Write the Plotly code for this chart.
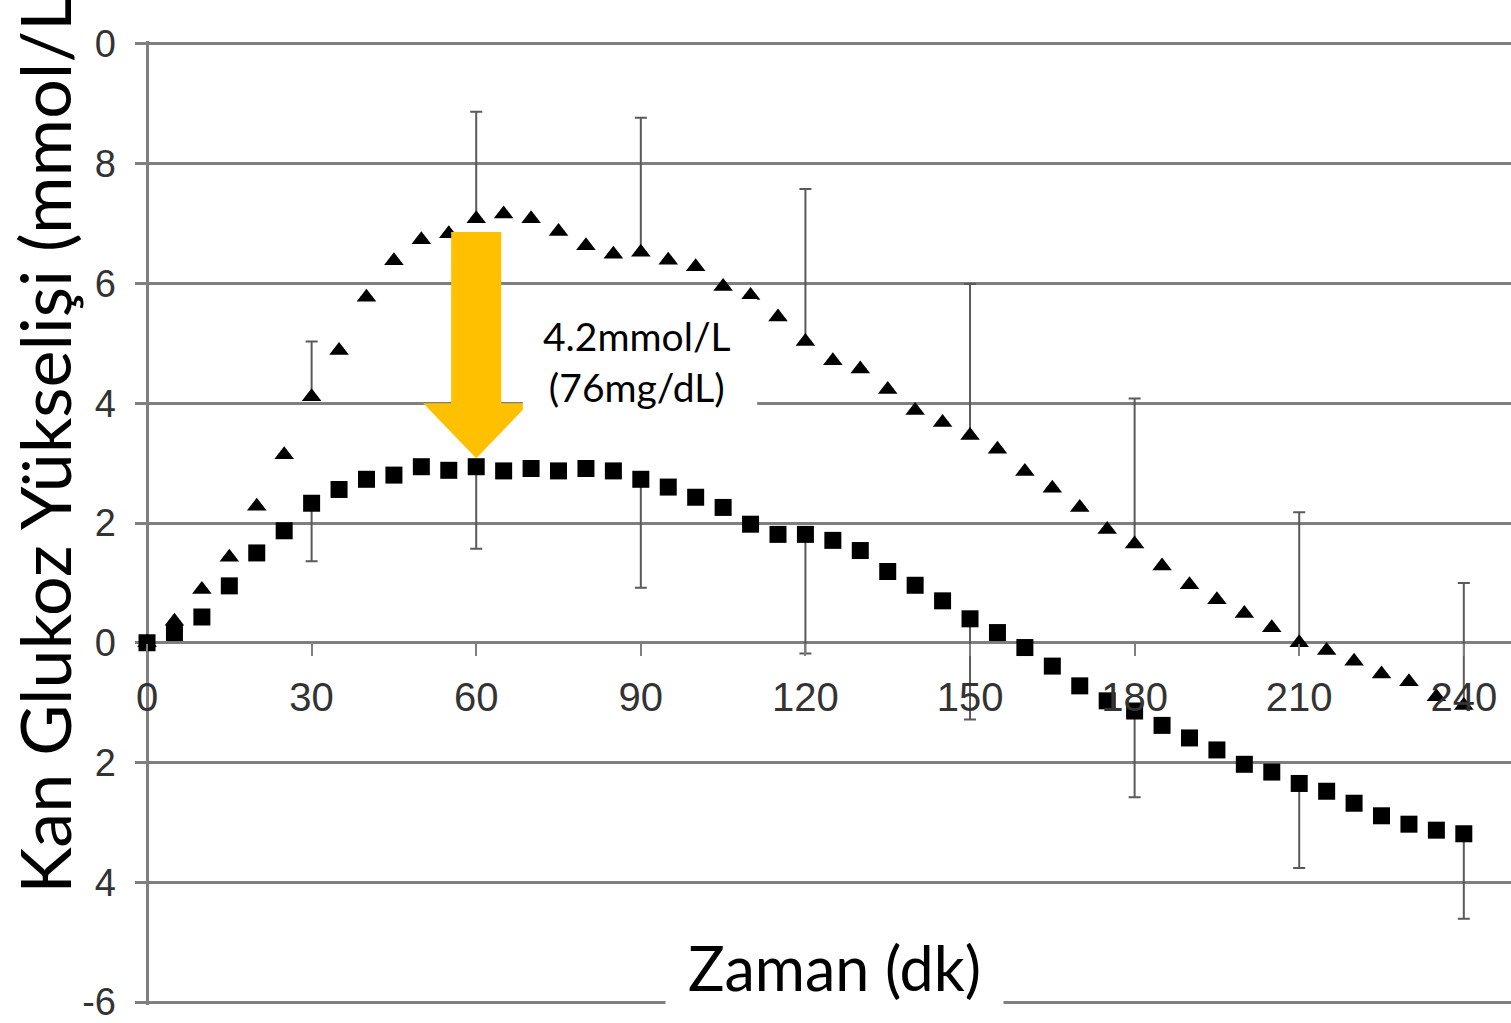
import plotly.graph_objects as go

# ---- data ----
times = [0, 5, 10, 15, 20, 25, 30, 35, 40, 45, 50, 55, 60, 65, 70, 75, 80, 85, 90, 95,
         100, 105, 110, 115, 120, 125, 130, 135, 140, 145, 150, 155, 160, 165, 170, 175,
         180, 185, 190, 195, 200, 205, 210, 215, 220, 225, 230, 235, 240]

triangle_vals = [0.0, 0.36, 0.89, 1.43, 2.28, 3.14, 4.11, 4.88, 5.77, 6.38, 6.73, 6.83,
                 7.08, 7.16, 7.08, 6.87, 6.63, 6.49, 6.52, 6.39, 6.28, 5.95, 5.80, 5.44,
                 5.03, 4.71, 4.57, 4.23, 3.88, 3.68, 3.46, 3.23, 2.86, 2.58, 2.26, 1.89,
                 1.65, 1.28, 0.97, 0.72, 0.49, 0.25, 0.0, -0.13, -0.31, -0.52, -0.65, -0.90,
                 -1.05]

square_vals = [0.0, 0.17, 0.43, 0.95, 1.50, 1.87, 2.33, 2.56, 2.73, 2.80, 2.94, 2.88,
               2.94, 2.87, 2.91, 2.87, 2.91, 2.87, 2.73, 2.60, 2.43, 2.26, 1.98, 1.81,
               1.81, 1.71, 1.54, 1.19, 0.96, 0.70, 0.40, 0.17, -0.08, -0.39, -0.72, -0.97,
               -1.14, -1.38, -1.59, -1.79, -2.03, -2.16, -2.35, -2.48, -2.68, -2.89, -3.03,
               -3.13, -3.19]

err_times = [30, 60, 90, 120, 150, 180, 210, 240]
triangle_err_up = [0.92, 1.79, 2.25, 2.55, 2.53, 2.43, 2.18, 2.05]
square_err_down = [0.97, 1.37, 1.81, 1.99, 1.68, 1.44, 1.41, 1.42]

x_tick_vals = [0, 30, 60, 90, 120, 150, 180, 210, 240]
x_tick_text = ["0", "30", "60", "90", "120", "150", "180", "210", "240"]
y_tick_vals = [10, 8, 6, 4, 2, 0, -2, -4, -6]
y_tick_text = ["0", "8", "6", "4", "2", "0", "2", "4", "-6"]

y_title = "Kan Glukoz Yükselişi (mmol/L)"
x_title = "Zaman (dk)"
drop_text = "4.2mmol/L<br>(76mg/dL)"
arrow_time = 60

# ---- build aligned error arrays ----
tri_up = [triangle_err_up[err_times.index(t)] if t in err_times else 0 for t in times]
sq_down = [square_err_down[err_times.index(t)] if t in err_times else 0 for t in times]
zeros = [0] * len(times)

X_MIN, X_MAX = -2.19, 248.6
Y_MIN, Y_MAX = -6.05, 10.05

fig = go.Figure()
fig.add_trace(go.Scatter(
    x=times, y=triangle_vals, mode="markers",
    marker=dict(symbol="triangle-up", size=17, color="black"),
    error_y=dict(type="data", symmetric=False, array=tri_up, arrayminus=zeros,
                 color="#5a5a5a", thickness=2, width=6),
    showlegend=False, hoverinfo="skip"))
fig.add_trace(go.Scatter(
    x=times, y=square_vals, mode="markers",
    marker=dict(symbol="square", size=17, color="black"),
    error_y=dict(type="data", symmetric=False, array=zeros, arrayminus=sq_down,
                 color="#5a5a5a", thickness=2, width=6),
    showlegend=False, hoverinfo="skip"))

# ---- orange arrow from triangle peak to square at t=60 ----
i60 = times.index(arrow_time)
top = triangle_vals[i60] - 0.22
tip = square_vals[i60] + 0.14
base = 4.0
sw, hw = 4.56, 9.66
ax = arrow_time
arrow_path = (f"M {ax - sw},{top} L {ax + sw},{top} L {ax + sw},{base} L {ax + hw},{base} "
              f"L {ax},{tip} L {ax - hw},{base} L {ax - sw},{base} Z")

shapes = [
    dict(type="path", path=arrow_path, xref="x", yref="y", fillcolor="#FFC000",
         line=dict(width=0), layer="above"),
    dict(type="rect", xref="x", yref="y", x0=68.5, x1=111.2, y0=3.78, y1=5.74,
         fillcolor="white", line=dict(width=0), layer="above"),
]

annotations = [
    dict(text=drop_text, x=89.3, y=4.70, xref="x", yref="y", showarrow=False,
         xanchor="center", yanchor="middle",
         font=dict(family="Lato", size=39, color="black"), align="center"),
    dict(text=x_title, x=0.5087, y=0.0393, xref="paper", yref="paper", showarrow=False,
         xanchor="center", yanchor="middle",
         font=dict(family="Lato", size=61, color="black"), bgcolor="white", borderpad=22),
    dict(text=y_title, x=-0.0661, y=0.5905, xref="paper", yref="paper", showarrow=False,
         xanchor="center", yanchor="middle",
         textangle=-90, font=dict(family="Lato", size=70, color="black")),
]

fig.update_layout(
    width=1511, height=1023,
    margin=dict(l=135, r=0, t=41, b=15),
    plot_bgcolor="white", paper_bgcolor="white",
    shapes=shapes, annotations=annotations,
    xaxis=dict(range=[X_MIN, X_MAX], tickvals=x_tick_vals, ticktext=x_tick_text,
               showgrid=False, zeroline=True, zerolinecolor="#7f7f7f", zerolinewidth=3,
               showline=False, ticks="outside", ticklen=12, tickwidth=2, tickcolor="#7f7f7f",
               anchor="free", position=(0 - Y_MIN) / (Y_MAX - Y_MIN),
               tickfont=dict(family="Liberation Sans", size=40, color="#333333"),
               ticklabelstandoff=7, ticklabeloverflow="allow"),
    yaxis=dict(range=[Y_MIN, Y_MAX], tickvals=y_tick_vals, ticktext=y_tick_text,
               showgrid=True, gridcolor="#7f7f7f", gridwidth=2.5, zeroline=False,
               showline=False, ticks="",
               tickfont=dict(family="Liberation Sans", size=38, color="#333333"),
               ticklabelstandoff=18, ticklabeloverflow="allow"),
)

fig.write_html("out.html", config={"displayModeBar": False},
               post_script="document.body.style.margin='0px';document.body.style.overflow='hidden';")
